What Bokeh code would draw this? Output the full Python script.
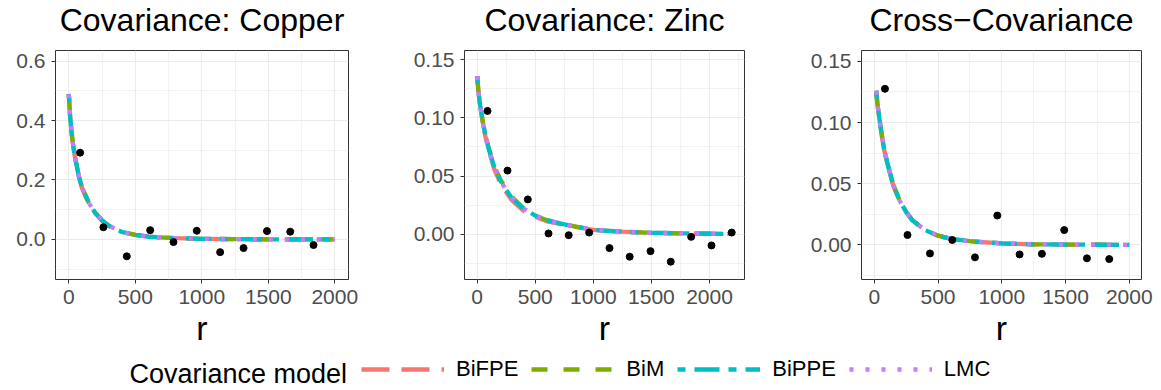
from bokeh.plotting import figure
from bokeh.models import (Range1d, FixedTicker, Legend, LegendItem, ColumnDataSource, Label)
from bokeh.layouts import column, row
from bokeh.embed import file_html
from bokeh.resources import INLINE

FONT = "Liberation Sans"

# ---------------- data ----------------
titles = ["Covariance: Copper", "Covariance: Zinc", "Cross\u2212Covariance"]
legend_title = "Covariance model"
models = ["BiFPE", "BiM", "BiPPE", "LMC"]
model_colors = ["#F8766D", "#7CAE00", "#00BFC4", "#C77CFF"]
model_dashes = ["28 12", "16 16", "8 9 25 9", "4 12"]

x_ticks = [0, 500, 1000, 1500, 2000]
x_tick_labels = ["0", "500", "1000", "1500", "2000"]
x_minor = [-250, 250, 750, 1250, 1750, 2250]

cu_y_ticks = [0.0, 0.2, 0.4, 0.6]
cu_y_tick_labels = ["0.0", "0.2", "0.4", "0.6"]
cu_y_minor = [-0.1, 0.1, 0.3, 0.5]
small_y_ticks = [0.0, 0.05, 0.10, 0.15]
small_y_tick_labels = ["0.00", "0.05", "0.10", "0.15"]
small_y_minor = [-0.025, 0.025, 0.075, 0.125]

# empirical (cross-)covariances
cu_lag = [85, 260, 436, 612, 787, 962, 1138, 1314, 1490, 1665, 1840]
cu_cov = [0.292, 0.041, -0.057, 0.031, -0.009, 0.029, -0.043, -0.029, 0.028, 0.026, -0.019]
zn_lag = [89, 261, 436, 614, 788, 964, 1139, 1313, 1492, 1666, 1842, 2017, 2191]
zn_cov = [0.106, 0.0547, 0.0299, 0.0006, -0.0009, 0.0014, -0.012, -0.0194, -0.0146, -0.0237, -0.0023, -0.0097, 0.0014]
cz_lag = [84, 261, 437, 612, 790, 965, 1140, 1315, 1490, 1668, 1843]
cz_cov = [0.1276, 0.0081, -0.0070, 0.0040, -0.0102, 0.0240, -0.0078, -0.0073, 0.0121, -0.0110, -0.0116]

# fitted model curves
cu_r = [0, 10, 20, 30, 40, 50, 75, 100, 150, 200, 250, 300, 400, 500, 600, 800, 1000, 1250, 1500, 1750, 2000]
cu_bifpe = [0.488, 0.412, 0.362, 0.325, 0.294, 0.267, 0.212, 0.172, 0.121, 0.088, 0.063, 0.046, 0.025, 0.015, 0.009, 0.004, 0.002, 0.0008, 0.0003, 0.0001, 0.0]
cu_bim = [0.490, 0.415, 0.365, 0.328, 0.297, 0.270, 0.215, 0.175, 0.124, 0.090, 0.064, 0.046, 0.025, 0.015, 0.009, 0.004, 0.002, 0.0008, 0.0003, 0.0001, 0.0]
cu_bippe = [0.489, 0.414, 0.364, 0.327, 0.296, 0.269, 0.214, 0.174, 0.123, 0.089, 0.064, 0.046, 0.025, 0.015, 0.009, 0.004, 0.002, 0.0008, 0.0003, 0.0001, 0.0]
cu_lmc = [0.489, 0.414, 0.364, 0.327, 0.296, 0.269, 0.214, 0.174, 0.123, 0.089, 0.064, 0.046, 0.025, 0.015, 0.009, 0.004, 0.002, 0.0008, 0.0003, 0.0001, 0.0]

zn_r = [0, 10, 20, 30, 50, 75, 100, 150, 200, 250, 300, 400, 500, 600, 750, 1000, 1250, 1500, 1750, 2000, 2200]
zn_bifpe = [0.136, 0.124, 0.115, 0.107, 0.095, 0.082, 0.072, 0.055, 0.044, 0.036, 0.029, 0.020, 0.015, 0.011, 0.0080, 0.0037, 0.0021, 0.0012, 0.0007, 0.0004, 0.0002]
zn_bim = [0.136, 0.124, 0.115, 0.108, 0.096, 0.084, 0.074, 0.058, 0.047, 0.039, 0.032, 0.022, 0.016, 0.012, 0.0085, 0.0037, 0.0021, 0.0012, 0.0007, 0.0004, 0.0002]
zn_bippe = [0.136, 0.124, 0.115, 0.108, 0.096, 0.083, 0.073, 0.057, 0.046, 0.038, 0.031, 0.022, 0.016, 0.012, 0.0085, 0.0037, 0.0021, 0.0012, 0.0007, 0.0004, 0.0002]
zn_lmc = [0.136, 0.124, 0.115, 0.108, 0.096, 0.083, 0.073, 0.057, 0.046, 0.038, 0.031, 0.022, 0.016, 0.012, 0.0085, 0.0037, 0.0021, 0.0012, 0.0007, 0.0004, 0.0002]

cz_r = [15, 25, 50, 75, 100, 150, 200, 250, 300, 400, 500, 600, 750, 1000, 1250, 1500, 1750, 2000]
cz_bifpe = [0.126, 0.115, 0.095, 0.079, 0.067, 0.048, 0.036, 0.027, 0.020, 0.012, 0.0075, 0.005, 0.003, 0.0012, 0.0005, 0.0002, 0.0001, 0.0]
cz_bim = [0.126, 0.116, 0.096, 0.080, 0.068, 0.049, 0.036, 0.027, 0.020, 0.012, 0.0075, 0.005, 0.003, 0.0012, 0.0005, 0.0002, 0.0001, 0.0]
cz_bippe = [0.126, 0.115, 0.096, 0.080, 0.068, 0.049, 0.036, 0.027, 0.020, 0.012, 0.0075, 0.005, 0.003, 0.0012, 0.0005, 0.0002, 0.0001, 0.0]
cz_lmc = [0.126, 0.115, 0.096, 0.080, 0.068, 0.049, 0.036, 0.027, 0.020, 0.012, 0.0075, 0.005, 0.003, 0.0012, 0.0005, 0.0002, 0.0001, 0.0]

# ---------------- layout constants ----------------
W = 1161
TITLE_H = 40           # title strip height
PANEL_H = 316          # panel row height
LEG_H = 34             # legend strip height
FRAME_BOTTOM = 279     # frame bottom, px from window top
TITLE_MID = 19         # vertical middle of title capitals, px from window top
LINE_W = 4.3

panel_widths = [400, 390, 371]
panel_left = [55, 64, 71]
panel_right = [52, 46, 20]
panel_top = [50, 48, 47]


def make_panel(xr, yr, yt, ytl, ymin, lag, cov, r, curves, width, left, right, top):
    p = figure(width=width, height=PANEL_H, output_backend="svg", toolbar_location=None,
               x_range=Range1d(*xr), y_range=Range1d(*yr),
               min_border_left=left, min_border_right=right,
               min_border_top=top - TITLE_H,
               min_border_bottom=TITLE_H + PANEL_H - FRAME_BOTTOM)
    p.background_fill_color = "white"
    p.border_fill_color = "white"
    p.outline_line_color = "#333333"
    p.outline_line_width = 1

    p.xaxis.ticker = FixedTicker(ticks=x_ticks, minor_ticks=x_minor)
    p.xaxis.major_label_overrides = {t: l for t, l in zip(x_ticks, x_tick_labels)}
    p.yaxis.ticker = FixedTicker(ticks=yt, minor_ticks=ymin)
    p.yaxis.major_label_overrides = {t: l for t, l in zip(yt, ytl)}
    for ax in (p.xaxis[0], p.yaxis[0]):
        ax.axis_line_color = None
        ax.major_tick_line_color = "#333333"
        ax.major_tick_out = 4
        ax.major_tick_in = 0
        ax.minor_tick_out = 0
        ax.minor_tick_in = 0
        ax.major_label_text_font = FONT
        ax.major_label_text_font_size = "21px"
        ax.major_label_text_color = "#4D4D4D"
        ax.major_label_standoff = 6
    p.xaxis.axis_label = "r"
    p.xaxis.axis_label_text_font = FONT
    p.xaxis.axis_label_text_font_size = "34px"
    p.xaxis.axis_label_text_font_style = "normal"
    p.xaxis.axis_label_text_color = "black"
    p.xaxis.axis_label_standoff = 2

    for g in (p.xgrid[0], p.ygrid[0]):
        g.grid_line_color = "#EBEBEB"
        g.grid_line_width = 1.1
        g.minor_grid_line_color = "#EBEBEB"
        g.minor_grid_line_width = 0.6

    for vals, col, dash in zip(curves, model_colors, model_dashes):
        p.line(r, vals, line_color=col, line_width=LINE_W, line_dash=dash)
    p.scatter(lag, cov, size=7, color="black")
    return p


p1 = make_panel((-100, 2103), (-0.135, 0.636), cu_y_ticks, cu_y_tick_labels, cu_y_minor,
                cu_lag, cu_cov, cu_r, [cu_bifpe, cu_bim, cu_bippe, cu_lmc],
                panel_widths[0], panel_left[0], panel_right[0], panel_top[0])
p2 = make_panel((-109, 2301), (-0.039, 0.158), small_y_ticks, small_y_tick_labels, small_y_minor,
                zn_lag, zn_cov, zn_r, [zn_bifpe, zn_bim, zn_bippe, zn_lmc],
                panel_widths[1], panel_left[1], panel_right[1], panel_top[1])
p3 = make_panel((-100, 2096), (-0.0283, 0.1589), small_y_ticks, small_y_tick_labels, small_y_minor,
                cz_lag, cz_cov, cz_r, [cz_bifpe, cz_bim, cz_bippe, cz_lmc],
                panel_widths[2], panel_left[2], panel_right[2], panel_top[2])


def strip(height):
    s = figure(width=W, height=height, output_backend="svg", toolbar_location=None,
               x_range=Range1d(0, 1), y_range=Range1d(0, 1), min_border=0)
    s.axis.visible = False
    s.grid.visible = False
    s.outline_line_color = None
    s.background_fill_color = "white"
    s.border_fill_color = "white"
    return s


# title strip: each title centred over its panel frame
top = strip(TITLE_H)
x0 = 0
for t, w, l, rgt in zip(titles, panel_widths, panel_left, panel_right):
    cx = x0 + l + (w - l - rgt) / 2
    top.add_layout(Label(x=cx, y=TITLE_H - TITLE_MID, x_units="screen", y_units="screen",
                         text=t, text_align="center", text_baseline="middle",
                         text_font=FONT, text_font_size="32px", text_color="black"))
    x0 += w

# legend strip
leg = strip(LEG_H)
leg.extra_y_ranges = {"hidden": Range1d(100, 101)}
leg.add_layout(Label(x=129, y=17, x_units="screen", y_units="screen", text=legend_title,
                     text_align="left", text_baseline="middle",
                     text_font=FONT, text_font_size="27px", text_color="black"))
items = []
for name, col, dash, vals in zip(models, model_colors, model_dashes, [cu_bifpe, cu_bim, cu_bippe, cu_lmc]):
    src = ColumnDataSource(data=dict(x=cu_r, y=vals))
    rr = leg.line("x", "y", source=src, y_range_name="hidden",
                  line_color=col, line_width=4.5, line_dash=dash)
    items.append(LegendItem(label=name, renderers=[rr]))
legend = Legend(items=items, orientation="horizontal", location=(361, 8),
                glyph_width=83, glyph_height=24, label_height=24, label_standoff=12, spacing=13,
                padding=0, margin=0, border_line_color=None, background_fill_alpha=0,
                label_text_font=FONT, label_text_font_size="22px", label_text_color="black")
leg.add_layout(legend)

layout = column(top, row(p1, p2, p3, spacing=0), leg, spacing=0)
open("out.html", "w").write(file_html(layout, INLINE))
